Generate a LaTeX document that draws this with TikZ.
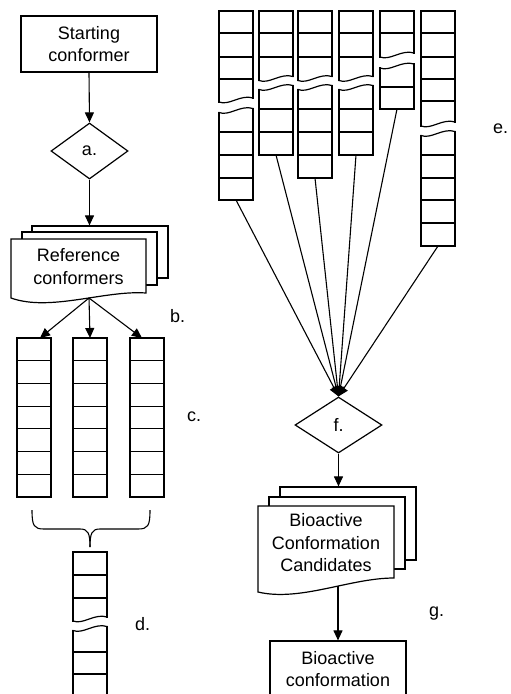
\documentclass[tikz,border=0pt]{standalone}
\usepackage{fontspec}
\setmainfont{Liberation Sans}
\usetikzlibrary{arrows.meta,shapes.geometric}

\tikzset{
  flow box/.style={draw,line width=1.2pt,fill=white,minimum width=136pt,
    minimum height=56pt,inner sep=0pt,align=center,
    font=\fontsize{18}{22.6}\selectfont},
  decision/.style={draw,diamond,line width=1.2pt,fill=white,inner sep=0pt,
    font=\fontsize{18}{22.6}\selectfont},
  sheet/.style={draw,line width=1.2pt,fill=white,inner sep=0pt},
  doc text/.style={align=center,inner sep=0pt,
    font=\fontsize{18}{22.6}\selectfont},
  step label/.style={anchor=base west,inner sep=0pt,
    font=\fontsize{18}{22.6}\selectfont},
  flow arrow/.style={-{Triangle[length=10pt,width=9pt]},line width=1.1pt},
  cell edge/.style={line width=1.2pt,line cap=rect},
  cell line/.style={line width=1.1pt}
}

% one piece of a conformer column: left x, top y, bottom y,
% wavy top (0/1), wavy bottom (0/1), separator lines
\newcommand{\confPiece}[6]{%
  \pgfmathsetmacro{\pieceR}{#1+34}
  \pgfmathsetmacro{\pieceTL}{#2+2*#4}
  \pgfmathsetmacro{\pieceTR}{#2-2*#4}
  \pgfmathsetmacro{\pieceBL}{#3+2*#5}
  \pgfmathsetmacro{\pieceBR}{#3-2*#5}
  \draw[cell edge] (#1,\pieceTL) -- (#1,\pieceBL);
  \draw[cell edge] (\pieceR,\pieceTR) -- (\pieceR,\pieceBR);
  \ifnum#4=1
    \draw[cell edge] (#1,\pieceTL) .. controls (#1+10,#2+6) and (#1+22,#2-6) .. (\pieceR,\pieceTR);
  \else
    \draw[cell edge] (#1,#2) -- (\pieceR,#2);
  \fi
  \ifnum#5=1
    \draw[cell edge] (#1,\pieceBL) .. controls (#1+10,#3+6) and (#1+22,#3-6) .. (\pieceR,\pieceBR);
  \else
    \draw[cell edge] (#1,#3) -- (\pieceR,#3);
  \fi
  \foreach \sy in {#6}{
    \draw[cell line] (#1,\sy) -- (\pieceR,\sy);
  }
}

\begin{document}
\begin{tikzpicture}[x=1pt,y=-1pt]
  \useasboundingbox (0,0) rectangle (511,694);
  \clip (0,0) rectangle (511,694);

  % left branch
  \node[flow box] (start) at (89,44) {Starting\\conformer};

  \node[decision,minimum width=77pt,minimum height=56pt] (a) at (89.5,151) {a.};

  \node[sheet,minimum width=136pt,minimum height=52pt] (refs back) at (100,252) {};
  \node[sheet,minimum width=135pt,minimum height=53pt] (refs mid) at (89.5,258.5) {};
  \filldraw[fill=white,line width=1.2pt]
    (11,298) -- (11,239) -- (146,239) -- (146,293)
    .. controls (105,290) and (50,312) .. (11,298) -- cycle;
  \node[doc text] (refs) at (78.5,266.5) {Reference\\conformers};
  \coordinate (refs out) at (89,298);

  \draw[flow arrow] (start.south) -- (a.north);
  \draw[flow arrow] (a.south) -- (a.south |- refs back.north);

  % c. columns
  \foreach \cx in {17,73,130}{
    \confPiece{\cx}{338}{497}{0}{0}{360.7,383.4,406.1,428.9,451.6,474.3}
  }
  \coordinate (c1 head) at (40,338);
  \coordinate (c2 head) at (90,338);
  \coordinate (c3 head) at (142,338);
  \draw[flow arrow] (refs out) -- (c1 head);
  \draw[flow arrow] (refs out) -- (c2 head);
  \draw[flow arrow] (refs out) -- (c3 head);

  % brace
  \draw[line width=1.1pt]
    (32,510) .. controls (32,526) and (34,529) .. (44,529) -- (80,529)
    .. controls (88,529) and (90,533) .. (90,547);
  \draw[line width=1.1pt]
    (150,510) .. controls (150,526) and (148,529) .. (138,529) -- (100,529)
    .. controls (92,529) and (90,533) .. (90,547);

  % d. column
  \confPiece{73}{552}{619}{0}{1}{575,598}
  \confPiece{73}{628.5}{697}{1}{0}{652,674}

  % e. columns
  \confPiece{219}{11}{100}{0}{1}{33,57,79}
  \confPiece{219}{110.5}{200}{1}{0}{132,155,178}
  \confPiece{259}{11}{78.5}{0}{1}{33,57}
  \confPiece{259}{87.5}{155}{1}{0}{109,132}
  \confPiece{298}{11}{78.5}{0}{1}{33,57}
  \confPiece{298}{87.5}{178}{1}{0}{109,132,155}
  \confPiece{339}{11}{78.5}{0}{1}{33,57}
  \confPiece{339}{87.5}{155}{1}{0}{109,132}
  \confPiece{380}{11}{55}{0}{1}{33}
  \confPiece{380}{66}{109}{1}{0}{87}
  \confPiece{421}{11}{124}{0}{1}{33,57,79,101}
  \confPiece{421}{133.5}{246}{1}{0}{155,178,200,223}

  \coordinate (e1 foot) at (236,200);
  \coordinate (e2 foot) at (276,155);
  \coordinate (e3 foot) at (315,178);
  \coordinate (e4 foot) at (356,155);
  \coordinate (e5 foot) at (397,109);
  \coordinate (e6 foot) at (438,246);

  % right branch
  \node[decision,minimum width=87pt,minimum height=56pt] (f) at (338.5,425) {f.};

  \foreach \k in {1,...,6}{
    \draw[flow arrow] (e\k\space foot) -- (f.north);
  }

  \node[sheet,minimum width=136pt,minimum height=73pt] (cands back) at (348,523.5) {};
  \node[sheet,minimum width=136pt,minimum height=72pt] (cands mid) at (337,533) {};
  \filldraw[fill=white,line width=1.2pt]
    (258,592) -- (258,506) -- (394,506) -- (394,578)
    .. controls (350,578) and (300,602) .. (258,592) -- cycle;
  \node[doc text] (cands) at (326,542.7) {Bioactive\\Conformation\\Candidates};
  \coordinate (cands out) at (338,586);

  \draw[flow arrow] (f.south) -- (f.south |- cands back.north);

  \node[flow box] (final) at (338,669) {Bioactive\\conformation};
  \draw[flow arrow] (cands out) -- (final.north);

  % step labels
  \node[step label] (lab b) at (170,322.7) {b.};
  \node[step label] (lab c) at (187,421) {c.};
  \node[step label] (lab d) at (135,630) {d.};
  \node[step label] (lab e) at (493,133) {e.};
  \node[step label] (lab g) at (429,616.5) {g.};

\end{tikzpicture}
\end{document}
